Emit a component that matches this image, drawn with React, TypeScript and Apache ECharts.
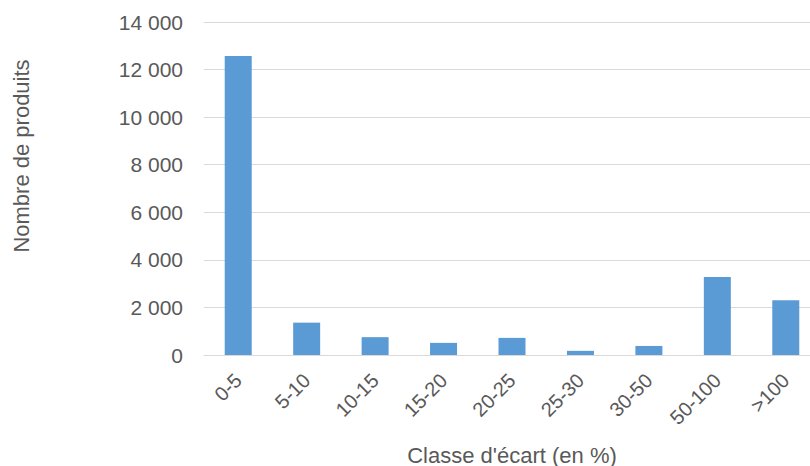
import React, { useEffect, useRef } from "react";
import * as echarts from "echarts";

const categories = ["0-5", "5-10", "10-15", "15-20", "20-25", "25-30", "30-50", "50-100", ">100"];
const productCounts = [12570, 1360, 750, 510, 720, 175, 380, 3280, 2300];
const yTicks = { min: 0, max: 14000, interval: 2000 };
const xAxisTitle = "Classe d'écart (en %)";
const yAxisTitle = "Nombre de produits";

const FONT = "'Liberation Sans', Arial, sans-serif";
const TEXT_COLOR = "#595959";

function formatThousands(v: number): string {
  return String(v).replace(/\B(?=(\d{3})+(?!\d))/g, " ");
}

export default function App() {
  const ref = useRef<HTMLDivElement>(null);

  useEffect(() => {
    document.body.style.margin = "0";
    if (!ref.current) return;
    const chart = echarts.init(ref.current, undefined, { renderer: "svg" });
    chart.setOption({
      animation: false,
      backgroundColor: "#ffffff",
      grid: { left: 204, top: 22, bottom: 111, right: 10, containLabel: false },
      xAxis: {
        type: "category",
        data: categories,
        axisTick: { show: false },
        axisLine: { lineStyle: { color: "#d9d9d9", width: 1 } },
        axisLabel: {
          rotate: 45,
          margin: 22,
          fontSize: 20,
          color: TEXT_COLOR,
          fontFamily: FONT,
          interval: 0,
        },
      },
      yAxis: {
        type: "value",
        min: yTicks.min,
        max: yTicks.max,
        interval: yTicks.interval,
        axisLine: { show: false },
        axisTick: { show: false },
        splitLine: { lineStyle: { color: "#d9d9d9", width: 1 } },
        axisLabel: {
          margin: 21,
          fontSize: 21,
          color: TEXT_COLOR,
          fontFamily: FONT,
          formatter: (v: number) => formatThousands(v),
        },
      },
      series: [
        {
          type: "bar",
          data: productCounts,
          barWidth: 27,
          itemStyle: { color: "#5B9BD5" },
        },
      ],
      graphic: [
        {
          type: "text",
          x: 512,
          y: 455,
          style: {
            text: xAxisTitle,
            fill: TEXT_COLOR,
            font: `22px ${FONT}`,
            align: "center",
            verticalAlign: "middle",
          },
        },
        {
          type: "text",
          x: 21,
          y: 156,
          rotation: Math.PI / 2,
          style: {
            text: yAxisTitle,
            fill: TEXT_COLOR,
            font: `22px ${FONT}`,
            align: "center",
            verticalAlign: "middle",
          },
        },
      ],
    });
    return () => chart.dispose();
  }, []);

  return (
    <div style={{ width: 810, height: 466, overflow: "hidden", position: "relative" }}>
      <div ref={ref} style={{ width: 830, height: 466 }} />
    </div>
  );
}
